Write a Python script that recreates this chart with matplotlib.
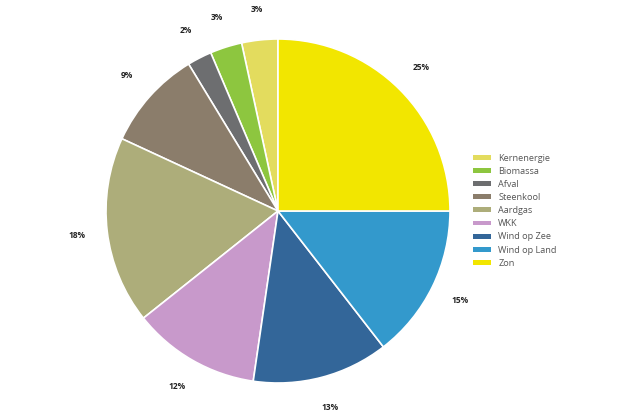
import matplotlib
matplotlib.use("Agg")
import matplotlib.pyplot as plt

categories = ["Kernenergie", "Biomassa", "Afval", "Steenkool", "Aardgas",
              "WKK", "Wind op Zee", "Wind op Land", "Zon"]
values = [3.4, 3.0, 2.3, 9.4, 17.6, 12.0, 12.8, 14.5, 25.0]
pct_labels = ["3%", "3%", "2%", "9%", "18%", "12%", "13%", "15%", "25%"]
colors = ["#e3dc5e", "#8dc63f", "#6d6e70", "#8b7d6b", "#adad7a",
          "#c899cb", "#336699", "#3399cc", "#f2e600"]

W, H = 626, 417
fig = plt.figure(figsize=(W / 100, H / 100), dpi=100)
ax = fig.add_axes([0, 0, 1, 1])

cx, cy, r = 278, 211, 172
wedges, texts = ax.pie(values, colors=colors, startangle=90, counterclock=True,
                       labels=pct_labels, labeldistance=1.18,
                       wedgeprops=dict(edgecolor="white", linewidth=1.2),
                       textprops=dict(fontsize=6, fontweight="bold",
                                      color="#222222", family="Open Sans"))
for t in texts:
    t.set_horizontalalignment("center")
    t.set_verticalalignment("center")

ax.set_aspect("auto")
ax.set_xlim(-cx / r, (W - cx) / r)
ax.set_ylim(-(H - cy) / r, cy / r)
ax.axis("off")

leg = fig.legend(wedges, categories, loc="upper left",
                 bbox_to_anchor=(469 / W, 1 - 150 / H),
                 frameon=False, handlelength=2.0, handleheight=0.45,
                 handletextpad=0.8, labelspacing=0.45, borderaxespad=0,
                 prop=dict(family="Open Sans", size=6.6))
for t in leg.get_texts():
    t.set_color("#555555")
for h in leg.legend_handles:
    h.set_edgecolor("none")

fig.savefig("out.png", dpi=100, facecolor="white")
